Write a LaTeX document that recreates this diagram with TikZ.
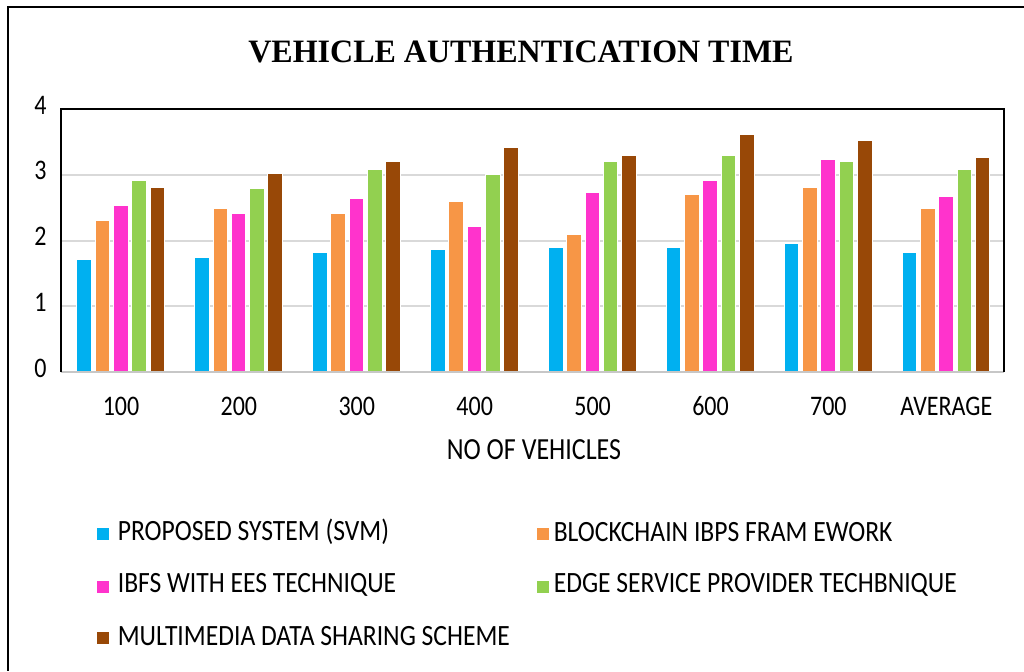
\documentclass[tikz,border=0pt]{standalone}
\usepackage{fontspec}
\setmainfont{Carlito}
\newfontfamily\titlefont{Liberation Serif}
\usetikzlibrary{positioning}
\definecolor{svmblue}{HTML}{00B0F0}
\definecolor{ibpsorange}{HTML}{F79646}
\definecolor{eespink}{HTML}{FF33CC}
\definecolor{edgegreen}{HTML}{92D050}
\definecolor{mdsbrown}{HTML}{984807}
\definecolor{gridgray}{HTML}{D9D9D9}
\tikzset{
	bar/.style={draw=white, line width=0.3pt},
	ticklbl/.style={font=\fontsize{12}{14}\selectfont, inner sep=0pt, transform shape, yscale=1.18},
	leglbl/.style={font=\fontsize{12.8}{14}\selectfont, inner sep=0pt, anchor=west, transform shape, yscale=1.15},
	legkey/.style={minimum width=6pt, minimum height=6pt, inner sep=0pt}
}
\begin{document}
\begin{tikzpicture}[x=0.5pt,y=-0.5pt]
	\useasboundingbox (0,0) rectangle (1024,671);
	\fill[white] (0,0) rectangle (1024,671);
	\draw[line width=1pt] (1024,7) -- (8,7) -- (8,671);
	\node[font=\titlefont\bfseries\fontsize{16}{19}\selectfont, transform shape, yscale=1.02] (title) at (521,52) {VEHICLE AUTHENTICATION TIME};
	\foreach \v in {1,2,3}{
		\draw[gridgray, line width=1pt] (61,{372-65.75*\v}) -- (1004,{372-65.75*\v});
	}
	\foreach \v in {0,...,4}{
		\node[ticklbl, anchor=east] (ylab\v) at (47,{368-65.75*\v}) {\v};
	}
	\foreach \g/\a/\b/\c/\d/\e in {0/1.72/2.31/2.53/2.92/2.81, 1/1.75/2.49/2.42/2.8/3.02, 2/1.82/2.42/2.64/3.09/3.2, 3/1.86/2.6/2.21/3.0/3.41, 4/1.89/2.1/2.74/3.2/3.3, 5/1.89/2.7/2.92/3.3/3.62, 6/1.96/2.81/3.23/3.2/3.52, 7/1.82/2.49/2.67/3.09/3.27}{
		\foreach \s/\col/\val in {0/svmblue/\a, 1/ibpsorange/\b, 2/eespink/\c, 3/edgegreen/\d, 4/mdsbrown/\e}{
			\filldraw[bar, fill=\col] ({120.5+117.9*\g+18.3*(\s-2)-7.3},372) rectangle ({120.5+117.9*\g+18.3*(\s-2)+7.3},{372-65.75*\val});
		}
	}
	\draw[gridgray!80!gray, line width=1pt] (61,372) -- (1004,372);
	\draw[line width=0.8pt] (61,372) -- (61,109) -- (1004,109) -- (1004,372);
	\foreach \g/\t in {0/100,1/200,2/300,3/400,4/500,5/600,6/700,7/AVERAGE}{
		\node[ticklbl] (xlab\g) at ({121+117.9*\g},406) {\t};
	}
	\node[ticklbl, font=\fontsize{13}{15}\selectfont] (xname) at (534,450) {NO OF VEHICLES};
	\node[legkey, fill=svmblue] (key1) at (103,534) {};
	\node[legkey, fill=ibpsorange] (key2) at (543,534) {};
	\node[legkey, fill=eespink] (key3) at (103,587) {};
	\node[legkey, fill=edgegreen] (key4) at (543,587) {};
	\node[legkey, fill=mdsbrown] (key5) at (103,638) {};
	\node[leglbl, right=4pt of key1, yshift=1pt] (leg1) {PROPOSED SYSTEM (SVM)};
	\node[leglbl, right=2pt of key2, yshift=1pt] (leg2) {BLOCKCHAIN IBPS FRAM EWORK};
	\node[leglbl, right=4pt of key3, yshift=1pt] (leg3) {IBFS WITH EES TECHNIQUE};
	\node[leglbl, right=2pt of key4, yshift=1pt] (leg4) {EDGE SERVICE PROVIDER TECHBNIQUE};
	\node[leglbl, right=4pt of key5, yshift=1pt] (leg5) {MULTIMEDIA DATA SHARING SCHEME};
\end{tikzpicture}
\end{document}
